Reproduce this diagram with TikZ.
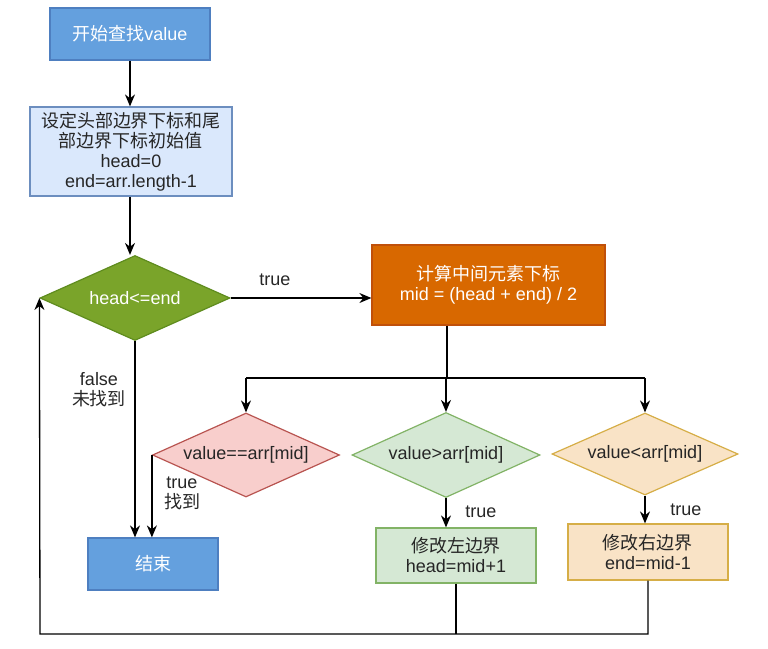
\documentclass[tikz,border=0pt]{standalone}
\usepackage{fontspec}
\setmainfont{Liberation Sans}
\newfontfamily\cjk{Noto Sans CJK SC}
\usepackage{xcolor}
\usetikzlibrary{arrows.meta, positioning, shapes.geometric}

\definecolor{startfill}{HTML}{64A0DE}
\definecolor{startline}{HTML}{4E7FC0}
\definecolor{initfill}{HTML}{DAE8FC}
\definecolor{initline}{HTML}{6C8EBF}
\definecolor{condfill}{HTML}{7AA42A}
\definecolor{condline}{HTML}{5F8C1E}
\definecolor{compfill}{HTML}{D86800}
\definecolor{compline}{HTML}{C0500A}
\definecolor{redfill}{HTML}{F8CECC}
\definecolor{redline}{HTML}{B85450}
\definecolor{greenfill}{HTML}{D5E8D4}
\definecolor{greenline}{HTML}{82B366}
\definecolor{yelfill}{HTML}{F9E3C6}
\definecolor{yelline}{HTML}{D6AE47}

\begin{document}
\begin{tikzpicture}[x=0.5pt, y=-0.5pt,
    every node/.style={font=\fontsize{9}{10}\selectfont, align=center, text=black!85},
    box/.style={draw, rectangle, line width=0.6pt, inner sep=0pt},
    dec/.style={draw, diamond, aspect=2.2, inner sep=0pt, line width=0.6pt},
    arr/.style={-{Stealth[length=6pt, width=5pt]}, line width=0.65pt},
    plain/.style={line width=0.65pt}]
    \useasboundingbox (0,0) rectangle (768,649);

    % Start and initialisation
    \node[box, fill=startfill, draw=startline, text=white, minimum width=80pt, minimum height=26pt] (start) at (130,34) {{\cjk 开始查找}value};
    \node[box, fill=initfill, draw=initline, minimum width=101pt, minimum height=44.5pt] (init) at (131,151.5)
        {{\cjk 设定头部边界下标和尾}\\{\cjk 部边界下标初始值}\\head=0\\end=arr.length-1};

    % Loop condition
    \node[dec, fill=condfill, draw=condline, text=white, minimum width=95pt, minimum height=42.5pt] (cond) at (135,298) {head<=end};
    \node[box, fill=compfill, draw=compline, text=white, minimum width=116.5pt, minimum height=40pt] (comp) at (488.5,285)
        {{\cjk 计算中间元素下标}\\mid = (head + end) / 2};

    % Three comparisons
    \node[dec, fill=redfill, draw=redline, minimum width=93.5pt, minimum height=42pt] (eq) at (246,455) {value==arr[mid]};
    \node[dec, fill=greenfill, draw=greenline, minimum width=94pt, minimum height=42.5pt] (gt) at (446,455) {value>arr[mid]};
    \node[dec, fill=yelfill, draw=yelline, minimum width=93pt, minimum height=41pt] (lt) at (645,454) {value<arr[mid]};

    % Results
    \node[box, fill=startfill, draw=startline, text=white, minimum width=65pt, minimum height=26pt] (endbox) at (153,564) {\cjk 结束};
    \node[box, fill=greenfill, draw=greenline, minimum width=80pt, minimum height=27.5pt] (lbox) at (456,555.5) {{\cjk 修改左边界}\\head=mid+1};
    \node[box, fill=yelfill, draw=yelline, minimum width=80pt, minimum height=28pt] (rbox) at (648,552) {{\cjk 修改右边界}\\end=mid-1};

    % Labels
    \node (ltrue) at (275,280) {true};
    \node (lfalse) at (99,390) {false\\{\cjk 未找到}};
    \node (lfound) at (182,493) {true\\{\cjk 找到}};
    \node (lgt) at (481,512) {true};
    \node (llt) at (686,510) {true};

    \coordinate (split) at (447,378);
    \coordinate (loopbl) at (40,634);

    % Connectors
    \draw[arr] (start) -- (start |- init.north);
    \draw[arr] (init.south -| start) -- (cond.north -| start);
    \draw[arr] (cond.east) -- (cond.east -| comp.west);
    \draw[plain] (split |- comp.south) -- (split);
    \draw[plain] (eq.north |- split) -- (lt.north |- split);
    \draw[arr] (eq.north |- split) -- (eq.north);
    \draw[arr] (gt.north |- split) -- (gt.north);
    \draw[arr] (lt.north |- split) -- (lt.north);
    \draw[arr] (cond.south) -- (cond.south |- endbox.north);
    \draw[arr] (eq.west) -- (eq.west |- endbox.north);
    \draw[arr] (gt.south) -- (gt.south |- lbox.north);
    \draw[arr] (lt.south) -- (lt.south |- rbox.north);
    \draw[arr] (rbox.south) |- (loopbl) -- (cond.west);
    \draw[plain] (lbox.south) -- (lbox.south |- loopbl);
\end{tikzpicture}
\end{document}
